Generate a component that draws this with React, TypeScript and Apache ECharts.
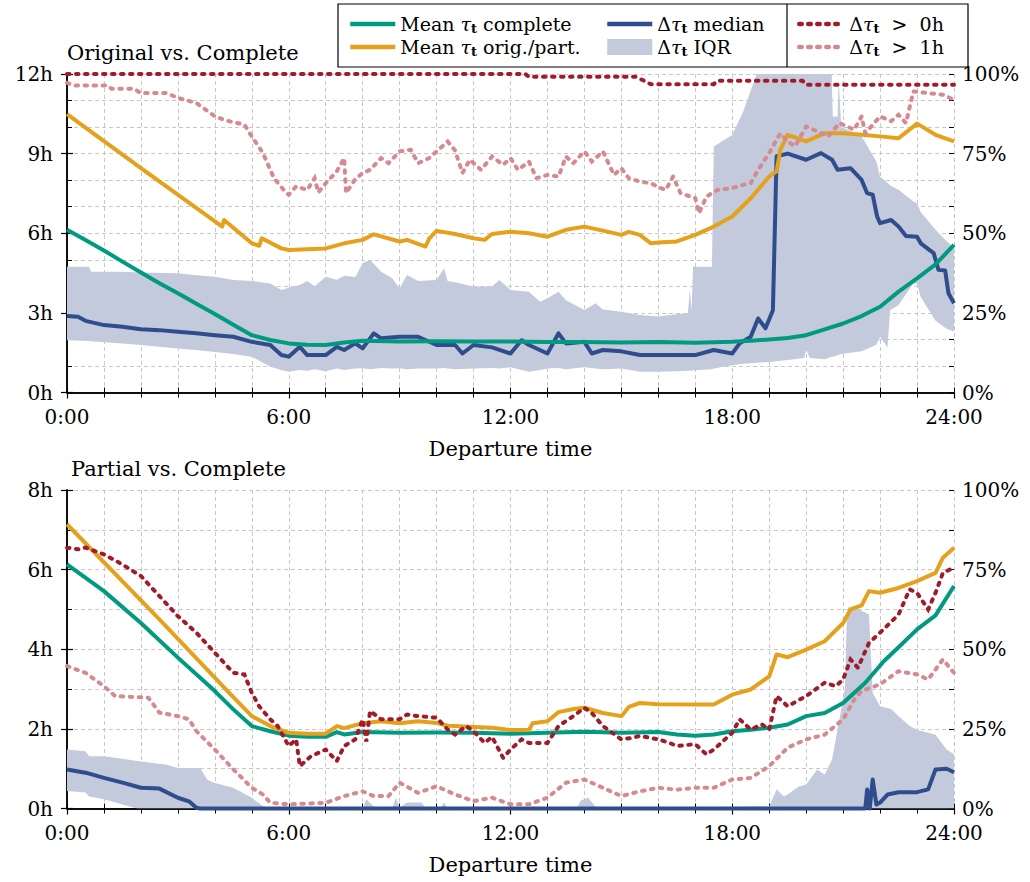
import React, { useEffect, useRef } from 'react';
import * as echarts from 'echarts';

// ---------- tick labels ----------
const X_TICK_LABELS = ['0:00', '6:00', '12:00', '18:00', '24:00'];
const Y_TOP_LABELS = ['0h', '3h', '6h', '9h', '12h'];
const Y_BOT_LABELS = ['0h', '2h', '4h', '6h', '8h'];
const PCT_LABELS = ['0%', '25%', '50%', '75%', '100%'];

// ---------- series names ----------
const N_TEAL = 'Mean τt complete';
const N_ORANGE = 'Mean τt orig./part.';
const N_BLUE = 'Δτt median';
const N_IQR = 'Δτt IQR';
const N_RED = 'Δτt > 0h';
const N_PINK = 'Δτt > 1h';

// ---------- top panel: Original vs. Complete ----------
// [hour, hours]
const tealTop = [[0,6.13],[0.5,5.75],[1,5.35],[1.5,4.93],[2,4.52],[2.5,4.12],[3,3.74],[3.5,3.34],[4,2.96],[4.5,2.55],[5,2.16],[5.5,1.98],[6,1.85],[6.5,1.8],[7,1.79],[7.5,1.88],[8,1.95],[9,1.92],[10,1.93],[11,1.92],[12,1.92],[13,1.9],[14,1.9],[15,1.88],[16,1.9],[17,1.87],[18,1.91],[18.5,1.95],[19,2.0],[19.5,2.05],[20,2.16],[20.5,2.38],[21,2.6],[21.5,2.88],[22,3.23],[22.5,3.8],[23,4.3],[23.5,4.83],[24,5.56]];
const orangeTop = [[0,10.49],[2,8.45],[4.2,6.25],[4.25,6.5],[5,5.62],[5.2,5.53],[5.27,5.81],[5.8,5.43],[6,5.37],[6.5,5.4],[7,5.43],[7.5,5.62],[8,5.75],[8.3,5.96],[9,5.69],[9.2,5.75],[9.7,5.5],[9.8,5.8],[10,6.09],[10.5,5.97],[11,5.81],[11.3,5.75],[11.5,5.97],[12,6.06],[12.5,6.0],[13,5.87],[13.5,6.13],[14,6.25],[14.5,6.1],[15,5.94],[15.2,6.05],[15.5,5.94],[15.8,5.62],[16,5.65],[16.5,5.69],[17,5.94],[17.5,6.25],[18,6.63],[18.5,7.32],[19,8.14],[19.2,8.33],[19.3,9.14],[19.5,9.71],[20,9.46],[20.5,9.77],[21,9.77],[21.5,9.71],[22,9.65],[22.5,9.58],[23,10.13],[23.5,9.71],[24,9.46]];
const blueTop = [[0,2.88],[0.3,2.85],[0.5,2.7],[1,2.54],[1.5,2.48],[2,2.38],[2.5,2.35],[3,2.29],[3.5,2.23],[4,2.16],[4.5,2.1],[5,1.91],[5.5,1.79],[5.8,1.41],[6,1.35],[6.3,1.72],[6.5,1.41],[7,1.41],[7.3,1.72],[7.5,1.6],[7.8,1.85],[8,1.66],[8.3,2.23],[8.5,2.04],[9,2.1],[9.5,2.1],[10,1.79],[10.5,1.79],[10.7,1.47],[11,1.79],[11.5,1.7],[12,1.47],[12.3,1.97],[12.5,1.79],[13,1.47],[13.3,2.23],[13.5,1.85],[14,1.91],[14.2,1.47],[14.5,1.6],[15,1.55],[15.5,1.41],[16,1.41],[17,1.41],[17.5,1.6],[18,1.47],[18.2,1.85],[18.5,2.1],[18.7,2.79],[18.9,2.42],[19.1,3.1],[19.2,8.9],[19.5,9.0],[20.0,8.77],[20.4,9.02],[20.7,8.77],[20.85,8.39],[21.2,8.45],[21.5,8.01],[21.65,7.51],[21.8,7.45],[21.92,6.63],[22.0,6.38],[22.3,6.5],[22.5,6.25],[22.7,5.9],[23.0,5.87],[23.1,5.62],[23.45,5.25],[23.58,4.62],[23.76,4.6],[23.85,3.74],[24,3.36]];
// [hour, lower, upper]
const iqrTop = [[0,1.97,4.74],[0.6,1.94,4.74],[0.65,1.93,4.55],[1.5,1.85,4.55],[2,1.79,4.52],[3,1.66,4.49],[3.5,1.6,4.42],[4,1.53,4.36],[4.5,1.45,4.24],[5,1.35,4.2],[5.5,0.97,4.11],[5.8,0.85,3.86],[6,0.78,3.95],[6.3,0.85,4.05],[6.5,0.82,4.2],[6.7,0.88,4.0],[7,0.8,4.36],[7.3,0.9,4.25],[7.5,0.85,4.4],[7.8,0.9,4.35],[8,0.91,4.87],[8.2,0.88,5.0],[8.5,0.92,4.55],[8.8,0.9,4.3],[9,0.91,3.92],[9.2,0.88,4.43],[9.5,0.9,4.2],[10,0.9,4.24],[10.2,0.92,4.68],[10.3,0.9,4.2],[10.5,0.88,4.15],[11,0.9,3.99],[11.5,0.92,3.99],[11.7,0.9,4.24],[12,0.95,3.86],[12.5,0.78,3.8],[12.8,0.85,3.42],[13,0.9,3.55],[13.3,0.92,3.8],[13.5,0.88,3.48],[14,0.95,3.11],[14.3,0.9,3.36],[14.5,0.88,3.13],[15,0.9,3.04],[15.5,0.78,2.92],[16,0.78,2.86],[16.5,0.8,2.95],[16.8,0.82,3.0],[16.85,0.82,3.86],[16.9,0.82,3.1],[16.94,0.84,4.74],[17.45,0.88,4.74],[17.5,0.9,9.27],[18,1.03,9.7],[18.3,1.08,10.6],[18.66,1.12,12],[19,1.15,12],[19.5,1.22,12],[19.95,1.3,12],[20.0,1.6,12],[20.1,1.3,12],[20.5,1.25,12],[20.69,1.35,12],[20.72,1.35,10.4],[20.85,1.4,10.4],[20.88,1.42,11.8],[20.95,1.45,10.0],[21.5,1.55,9.65],[21.9,1.8,8.7],[22,2.1,8.14],[22.2,1.7,7.9],[22.27,3.1,7.8],[22.5,3.3,7.64],[22.9,4.11,7.2],[23.0,4.11,7.13],[23.1,3.6,6.8],[23.5,2.7,6.13],[23.8,2.4,5.7],[24,2.3,5.45]];
// [hour, percent]
const redTop = [[0,100],[12.4,100],[12.5,99.1],[15.4,99.1],[15.8,96.8],[17.5,96.8],[17.6,97.9],[19.9,97.9],[20.0,96.6],[24,96.6]];
const pinkTop = [[0,97.2],[0.2,96.4],[1.1,96.4],[1.2,95.4],[1.8,95.4],[2,94.0],[2.7,94.0],[3,92.5],[3.5,90.9],[4,86.7],[4.3,85.4],[4.8,84.1],[5,80.4],[5.3,75.2],[5.6,67.3],[5.9,63.1],[6,62.1],[6.2,64.7],[6.5,63.6],[6.7,67.3],[6.8,62.8],[7,65.7],[7.3,69.4],[7.5,73.6],[7.55,62.6],[7.8,67.0],[8,68.9],[8.2,69.9],[8.5,73.6],[8.7,72.0],[9,75.7],[9.3,76.2],[9.5,72.0],[9.8,73.6],[10,75.7],[10.3,78.8],[10.5,76.0],[10.7,68.9],[10.9,73.1],[11.2,69.9],[11.5,74.1],[11.8,71.5],[12,73.6],[12.2,69.9],[12.5,72.5],[12.7,67.3],[13,68.3],[13.3,67.8],[13.5,74.1],[13.7,72.0],[14,75.7],[14.2,72.5],[14.5,75.7],[14.8,68.3],[15,70.4],[15.2,67.3],[15.5,66.2],[15.8,65.7],[16,64.5],[16.2,63.6],[16.4,67.8],[16.6,62.6],[17,61.0],[17.1,56.3],[17.3,61.5],[17.6,63.6],[18,64.2],[18.3,65.2],[18.5,65.7],[18.7,69.9],[19,75.2],[19.3,81.4],[19.5,78.8],[19.7,77.3],[20,83.5],[20.3,82.0],[20.6,80.4],[20.9,84.6],[21.3,82.5],[21.5,86.7],[21.6,81.4],[22,86.7],[22.3,85.2],[22.5,87.2],[22.7,84.6],[22.9,94.5],[23.3,94.0],[23.7,93.5],[24,91.9]];

// ---------- bottom panel: Partial vs. Complete ----------
const tealBot = [[0,6.13],[1,5.46],[2,4.66],[3,3.79],[4,2.95],[4.5,2.49],[5,2.07],[5.5,1.94],[6,1.83],[6.5,1.8],[7,1.8],[7.3,1.92],[7.5,1.86],[8,1.92],[9,1.9],[10,1.91],[11,1.9],[12,1.88],[13,1.9],[14,1.93],[15,1.9],[16,1.92],[16.5,1.86],[17,1.83],[17.5,1.86],[18,1.94],[18.5,1.98],[19,2.03],[19.5,2.11],[20,2.32],[20.5,2.4],[21,2.65],[21.2,2.82],[21.6,3.16],[22.1,3.7],[22.5,4.05],[23,4.5],[23.5,4.85],[24,5.59]];
const orangeBot = [[0,7.14],[2.5,4.75],[4.5,2.8],[5,2.32],[5.5,2.07],[6,1.9],[6.5,1.88],[7,1.88],[7.3,2.07],[7.5,2.02],[8,2.14],[8.5,2.19],[9,2.14],[9.5,2.19],[10,2.15],[10.3,2.08],[10.5,2.07],[11,2.05],[11.5,2.03],[12,1.97],[12.5,1.98],[12.6,2.14],[13,2.19],[13.3,2.42],[13.7,2.5],[14,2.53],[14.5,2.4],[15,2.32],[15.2,2.55],[15.5,2.65],[16,2.62],[17,2.61],[17.5,2.61],[18,2.86],[18.5,2.99],[19,3.32],[19.2,3.87],[19.5,3.8],[20,3.99],[20.5,4.2],[21,4.66],[21.2,5.0],[21.5,5.1],[21.7,5.46],[22,5.42],[22.5,5.54],[23,5.71],[23.5,5.92],[23.7,6.3],[24,6.55]];
const blueBot = [[0,0.98],[0.5,0.9],[1,0.77],[1.5,0.65],[2,0.52],[2.5,0.5],[3,0.27],[3.3,0.18],[3.5,0.02],[3.6,0],[21.6,0],[21.65,0.48],[21.72,0],[21.8,0.73],[21.9,0.1],[22.0,0.15],[22.2,0.35],[22.5,0.41],[23,0.41],[23.3,0.48],[23.5,0.98],[23.8,1.0],[24,0.91]];
const iqrBot = [[0,0.44,1.48],[0.5,0.4,1.44],[0.6,0.3,1.31],[1,0.23,1.31],[1.5,0.1,1.25],[1.9,0,1.19],[2.7,0,1.1],[3.0,0,1.02],[3.6,0,1.02],[3.8,0,0.72],[4,0,0.64],[4.5,0,0.52],[5,0,0.27],[5.3,0,0.06],[5.5,0,0],[8.0,0,0],[8.1,0,0.23],[8.3,0,0.05],[8.8,0,0],[8.9,0,0.27],[9.0,0,0.02],[9.2,0,0.15],[9.6,0,0.15],[9.7,0,0],[10.1,0,0],[10.2,0,0.15],[10.3,0,0],[13.8,0,0],[13.9,0,0.2],[14.1,0,0.27],[14.3,0,0.05],[14.4,0,0],[19.0,0,0.05],[19.2,0,0.48],[19.4,0,0.3],[19.5,0,0.35],[19.8,0,0.55],[20,0,0.6],[20.3,0,0.98],[20.5,0,0.85],[20.7,0,1.23],[20.9,0,2.24],[21.05,0,3.0],[21.1,0,4.8],[21.15,0,5.1],[21.2,0,4.87],[21.25,0,5.08],[21.7,0,4.87],[21.8,0,2.9],[22,0,2.57],[22.3,0,2.5],[22.5,0,2.32],[22.8,0,2.07],[23,0,1.98],[23.5,0,1.85],[23.8,0,1.48],[24,0,1.36]];
const redBot = [[0,81.9],[0.3,81.4],[0.5,81.9],[1,79.8],[1.5,76.6],[2,73.0],[2.5,66.7],[3,60.4],[3.5,55.2],[4,48.9],[4.5,42.6],[4.8,42.1],[5,36.3],[5.2,32.1],[5.5,28.0],[5.7,25.9],[6,19.6],[6.2,21.7],[6.3,13.3],[6.6,16.4],[7,18.5],[7.3,14.9],[7.5,19.6],[7.8,21.7],[8,28.0],[8.1,21.0],[8.2,30.6],[8.5,28.0],[9,28.0],[9.2,29.5],[9.5,29.0],[10,28.5],[10.3,24.8],[10.5,23.2],[10.8,25.9],[11,24.3],[11.3,20.6],[11.5,22.5],[11.8,15.9],[12,18.5],[12.3,21.7],[12.5,20.6],[13,20.6],[13.3,25.9],[13.7,29.0],[14,31.6],[14.2,30.0],[14.5,25.9],[15,21.7],[15.3,22.2],[15.5,22.8],[16,21.7],[16.3,20.6],[16.5,19.6],[17,20.2],[17.3,17.0],[17.5,18.5],[18,23.8],[18.2,28.0],[18.5,24.8],[18.8,26.4],[19,24.8],[19.2,35.3],[19.5,32.1],[20,35.3],[20.5,39.5],[20.8,38.4],[21,40.5],[21.2,46.8],[21.4,44.2],[21.7,52.0],[22,55.2],[22.5,60.9],[22.8,68.8],[23,67.7],[23.3,62.5],[23.5,67.7],[23.7,74.0],[24,75.6]];
const pinkBot = [[0,44.7],[0.5,42.6],[1,38.4],[1.3,35.3],[2.2,34.8],[2.5,30.1],[3,29.0],[3.3,28.0],[3.5,24.3],[4,18.5],[4.5,12.3],[5,6.5],[5.3,4.4],[5.5,1.8],[6,1.3],[7,1.8],[7.5,3.9],[8,5.4],[8.3,3.9],[8.7,3.9],[9,8.1],[9.5,4.9],[10,7.0],[10.5,4.4],[11,2.3],[11.5,3.4],[12,1.3],[12.5,1.3],[13,3.4],[13.5,8.1],[14,9.1],[14.5,6.5],[15,3.9],[15.5,5.4],[16,6.5],[16.5,5.9],[17,6.5],[17.5,6.5],[18,9.1],[18.5,9.6],[19,13.3],[19.5,19.1],[20,21.7],[20.5,23.2],[21,28.0],[21.3,34.2],[21.5,36.9],[22,39.0],[22.5,43.1],[23,42.1],[23.3,40.5],[23.7,46.8],[24,42.6]];

// ---------- styling ----------
const FONT = 'DejaVu Serif';
const C_TEAL = '#009a80';
const C_ORANGE = '#e5a11c';
const C_BLUE = '#2f4d8c';
const C_BAND = '#c2cadc';
const C_RED = '#a11c2b';
const C_PINK = '#d48a90';
const C_GRID = '#c8c8c8';

const LEGEND_RICH: Record<string, string> = {
  [N_TEAL]: '{r|Mean }{tau|τ}{sub|t}{r| complete}',
  [N_ORANGE]: '{r|Mean }{tau|τ}{sub|t}{r| orig./part.}',
  [N_BLUE]: '{r|Δ}{tau|τ}{sub|t}{r| median}',
  [N_IQR]: '{r|Δ}{tau|τ}{sub|t}{r| IQR}',
  [N_RED]: '{r|Δ}{tau|τ}{sub|t}{r|  >  0h}',
  [N_PINK]: '{r|Δ}{tau|τ}{sub|t}{r|  >  1h}',
};

function buildOption() {
  const labelStyle = { fontFamily: FONT, fontSize: 20, color: '#000' };
  const axisLine = { show: true, lineStyle: { color: '#000', width: 1.5 } };
  const gridLine = { show: true, lineStyle: { color: C_GRID, width: 1, type: [4, 3] as any } };

  const grids = [
    { left: 67, top: 74, width: 887, height: 318.5 },
    { left: 67, top: 490, width: 887, height: 318.5 },
  ];

  const xAxes: any[] = [];
  const yAxes: any[] = [];
  [0, 1].forEach((g) => {
    xAxes.push({
      gridIndex: g, type: 'value', min: 0, max: 24, interval: 6, position: 'bottom',
      axisLine, axisTick: { show: true, inside: false, length: 6, lineStyle: { color: '#000', width: 1.2 } },
      axisLabel: { ...labelStyle, margin: 14, formatter: (v: number) => X_TICK_LABELS[Math.round(v / 6)] },
      splitLine: { show: false },
      name: 'Departure time', nameLocation: 'middle', nameGap: 46,
      nameTextStyle: { fontFamily: FONT, fontSize: 21, color: '#000' },
    });
    xAxes.push({
      gridIndex: g, type: 'value', min: 0, max: 24, interval: 1, position: 'bottom',
      axisLine: { show: false }, axisTick: { show: true, inside: true, length: 5, lineStyle: { color: '#000', width: 1 } },
      axisLabel: { show: false }, splitLine: gridLine,
    });
    xAxes.push({
      gridIndex: g, type: 'value', min: 0, max: 24, interval: 1, position: 'top',
      axisLine, axisTick: { show: true, inside: true, length: 5, lineStyle: { color: '#000', width: 1 } },
      axisLabel: { show: false }, splitLine: { show: false },
    });
    const maxH = g === 0 ? 12 : 8;
    const labs = g === 0 ? Y_TOP_LABELS : Y_BOT_LABELS;
    const step = maxH / 4;
    yAxes.push({
      gridIndex: g, type: 'value', min: 0, max: maxH, interval: step, position: 'left',
      axisLine, axisTick: { show: true, inside: false, length: 6, lineStyle: { color: '#000', width: 1.2 } },
      axisLabel: { ...labelStyle, margin: 14, formatter: (v: number) => labs[Math.round(v / step)] },
      splitLine: { show: false },
    });
    yAxes.push({
      gridIndex: g, type: 'value', min: 0, max: maxH, interval: 1, position: 'left',
      axisLine: { show: false }, axisTick: { show: true, inside: true, length: 5, lineStyle: { color: '#000', width: 1 } },
      axisLabel: { show: false }, splitLine: gridLine,
    });
    yAxes.push({
      gridIndex: g, type: 'value', min: 0, max: 100, interval: 25, position: 'right',
      axisLine, axisTick: { show: true, inside: false, length: 6, lineStyle: { color: '#000', width: 1.2 } },
      axisLabel: { ...labelStyle, margin: 8, formatter: (v: number) => PCT_LABELS[Math.round(v / 25)] },
      splitLine: { show: false },
    });
    yAxes.push({
      gridIndex: g, type: 'value', min: 0, max: maxH, interval: 1, position: 'right',
      axisLine: { show: false }, axisTick: { show: true, inside: true, length: 5, lineStyle: { color: '#000', width: 1 } },
      axisLabel: { show: false }, splitLine: { show: false },
    });
  });

  const solid = (name: string, color: string, data: number[][], xi: number, yi: number, z: number) => ({
    name, type: 'line', data, xAxisIndex: xi, yAxisIndex: yi, symbol: 'none', showSymbol: false,
    lineStyle: { color, width: 4, join: 'round' }, itemStyle: { color }, z, clip: false,
  });
  const dotted = (name: string, color: string, data: number[][], xi: number, yi: number, z: number) => ({
    name, type: 'line', data, xAxisIndex: xi, yAxisIndex: yi, symbol: 'none', showSymbol: false,
    lineStyle: { color, width: 4, type: [2.5, 6.5], cap: 'round', join: 'miter' }, itemStyle: { color }, z, clip: false,
  });
  const band = (data: number[][], xi: number, yi: number) => ({
    name: N_IQR, type: 'custom', xAxisIndex: xi, yAxisIndex: yi, data,
    encode: { x: 0, y: [1, 2] }, itemStyle: { color: C_BAND }, z: 1, clip: true,
    renderItem: (params: any, api: any) => {
      if (params.dataIndex !== 0) return null;
      const upper = data.map((d) => api.coord([d[0], d[2]]));
      const lower = data.map((d) => api.coord([d[0], d[1]])).reverse();
      return { type: 'polygon', shape: { points: upper.concat(lower) }, style: { fill: C_BAND } };
    },
  });

  const series: any[] = [
    band(iqrTop, 0, 0),
    solid(N_BLUE, C_BLUE, blueTop, 0, 0, 3),
    solid(N_TEAL, C_TEAL, tealTop, 0, 0, 4),
    solid(N_ORANGE, C_ORANGE, orangeTop, 0, 0, 5),
    dotted(N_PINK, C_PINK, pinkTop, 0, 2, 6),
    dotted(N_RED, C_RED, redTop, 0, 2, 7),
    band(iqrBot, 3, 4),
    solid(N_BLUE, C_BLUE, blueBot, 3, 4, 3),
    solid(N_TEAL, C_TEAL, tealBot, 3, 4, 4),
    solid(N_ORANGE, C_ORANGE, orangeBot, 3, 4, 5),
    dotted(N_PINK, C_PINK, pinkBot, 3, 6, 6),
    dotted(N_RED, C_RED, redBot, 3, 6, 7),
  ];

  const rich = {
    r: { fontFamily: FONT, fontSize: 19, color: '#000', lineHeight: 22 },
    tau: { fontFamily: FONT, fontSize: 19, fontStyle: 'italic', color: '#000', lineHeight: 22 },
    sub: { fontFamily: FONT, fontSize: 13, fontWeight: 'bold', color: '#000', lineHeight: 12, verticalAlign: 'bottom' },
  };
  const legendBase = {
    orient: 'vertical', top: 13, itemWidth: 45, itemHeight: 16, itemGap: 1, padding: 0,
    selectedMode: false, itemStyle: { opacity: 0 }, lineStyle: { width: 4.5 },
    textStyle: { fontFamily: FONT, fontSize: 19, color: '#000', lineHeight: 22, rich },
    formatter: (n: string) => LEGEND_RICH[n] || n,
  };

  return {
    animation: false,
    backgroundColor: '#fff',
    title: [
      { text: 'Original vs. Complete', left: 67, top: 42, padding: 0, textStyle: { fontFamily: FONT, fontSize: 21, fontWeight: 'normal', color: '#000' } },
      { text: 'Partial vs. Complete', left: 71, top: 458, padding: 0, textStyle: { fontFamily: FONT, fontSize: 21, fontWeight: 'normal', color: '#000' } },
    ],
    legend: [
      { ...legendBase, left: 348, data: [N_TEAL, N_ORANGE] },
      { ...legendBase, left: 605, data: [N_BLUE, { name: N_IQR, icon: 'rect', itemStyle: { color: C_BAND, opacity: 1 } }] },
      { ...legendBase, left: 797, data: [N_RED, N_PINK] },
    ],
    graphic: [
      { type: 'rect', shape: { x: 338, y: 4, width: 630, height: 63 }, style: { fill: 'none', stroke: '#000', lineWidth: 1.2 }, z: 10 },
      { type: 'line', shape: { x1: 787, y1: 4, x2: 787, y2: 67 }, style: { stroke: '#000', lineWidth: 1.2 }, z: 10 },
    ],
    grid: grids,
    xAxis: xAxes,
    yAxis: yAxes,
    series,
  };
}

export default function App() {
  const ref = useRef<HTMLDivElement>(null);
  useEffect(() => {
    if (!ref.current) return;
    const chart = echarts.init(ref.current, null, { renderer: 'svg' });
    chart.setOption(buildOption() as any);
    return () => chart.dispose();
  }, []);
  return (
    <div
      ref={ref}
      style={{ position: 'fixed', left: 0, top: 0, width: 1030, height: 882, background: '#fff' }}
    />
  );
}
